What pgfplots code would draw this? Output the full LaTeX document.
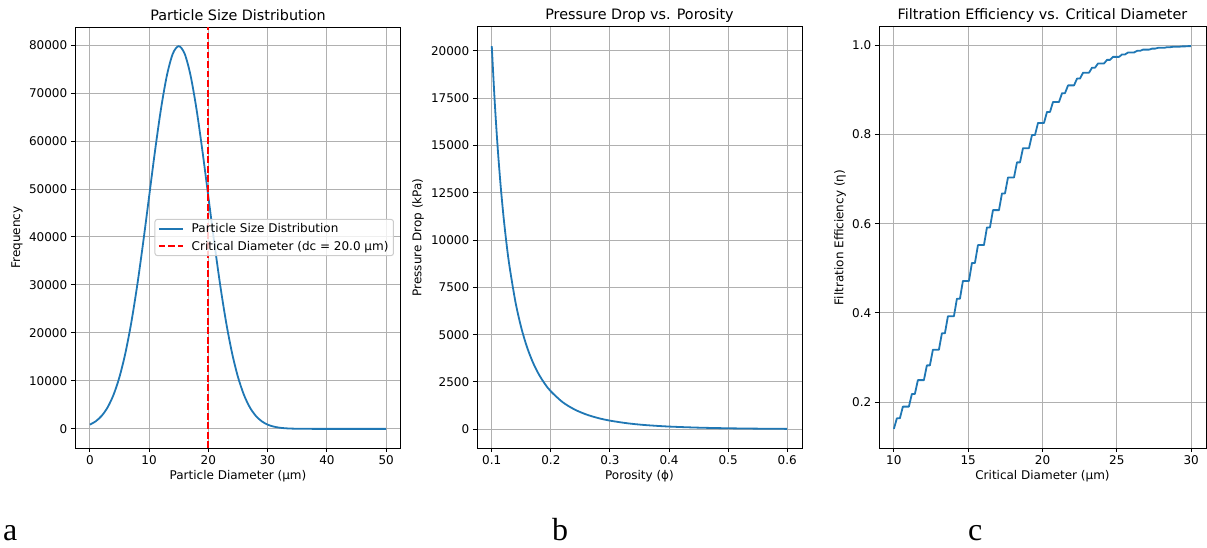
\documentclass[border=0pt]{standalone}
\usepackage{fontspec}
\setmainfont{DejaVu Sans}
\newfontfamily\panelfont{Liberation Serif}
\usepackage{pgfplots}
\pgfplotsset{compat=1.18}

\definecolor{mplblue}{HTML}{1F77B4}
\definecolor{gridgray}{HTML}{B0B0B0}
\definecolor{legendgray}{HTML}{CCCCCC}

\pgfplotsset{
  mpl/.style={
    scale only axis,
    width=326pt, height=421pt,
    axis line style={black, line width=1pt},
    grid=major,
    grid style={gridgray, line width=1pt},
    tick align=outside,
    major tick length=4.2pt,
    xtick pos=left, ytick pos=left,
    tick style={black, line width=1pt},
    ticklabel style={font=\fontsize{12}{14}\selectfont},
    label style={font=\fontsize{12}{14}\selectfont},
    title style={font=\fontsize{14.35}{17}\selectfont, at={(axis description cs:0.5,1)}, anchor=base, yshift=1pt},
    xlabel style={at={(axis description cs:0.5,0)}, anchor=base, yshift=-31pt},
    scaled ticks=false,
    /pgf/number format/assume math mode=true,
    /pgf/number format/1000 sep={},
  },
  curve/.style={mplblue, line width=1.8pt},
}

\begin{document}
\begin{tikzpicture}
\useasboundingbox (0pt,0pt) rectangle (1207pt,547pt);

% (a) particle size distribution
\begin{axis}[mpl,
  at={(75pt,99pt)}, anchor=south west,
  title={Particle Size Distribution},
  xlabel={Particle Diameter (μm)},
  ylabel={Frequency},
  ylabel style={at={(axis description cs:-0.178,0.5)}, anchor=center},
  xmin=-2.5, xmax=52.5, ymin=-3990, ymax=83780,
  xtick={0,10,...,50}, ytick={0,10000,...,80000},
  legend style={at={(0.9785,0.5)}, anchor=east, draw=legendgray, line width=1pt,
    rounded corners=2.5pt, fill=white, fill opacity=0.8, text opacity=1,
    font=\fontsize{12}{14}\selectfont, inner xsep=3pt, inner ysep=2pt,
    row sep=3pt, cells={anchor=west}},
  legend image code/.code={\draw[#1] (0pt,0pt) -- (24pt,0pt); \path (30pt,0pt);},
]
\addplot[curve, smooth] coordinates {
  (0,886) (1,1583) (2,2717) (3,4479) (4,7095) (5,10798) (6,15790) (7,22184)
  (8,29945) (9,38837) (10,48394) (11,57938) (12,66645) (13,73654) (14,78209)
  (15,79788) (16,78209) (17,73654) (18,66645) (19,57938) (20,48394) (21,38837)
  (22,29945) (23,22184) (24,15790) (25,10798) (26,7095) (27,4479) (28,2717)
  (29,1583) (30,886) (31,477) (32,246) (33,122) (34,58) (35,27) (36,12)
  (37,5) (38,2) (40,0) (45,0) (50,0)
};
\addlegendentry{Particle Size Distribution}
\addplot[red, line width=1.8pt, dash pattern=on 6.6pt off 2.9pt] coordinates {(20,-3990) (20,83780)};
\addlegendentry{Critical Diameter (dc = 20.0 μm)}
\end{axis}

% (b) pressure drop
\begin{axis}[mpl,
  at={(477pt,99pt)}, anchor=south west, width=325pt,
  title={Pressure Drop vs. Porosity},
  xlabel={Porosity (ϕ)},
  ylabel={Pressure Drop (kPa)},
  ylabel style={at={(axis description cs:-0.1815,0.5)}, anchor=center},
  xmin=0.075, xmax=0.625, ymin=-993, ymax=21262,
  xtick={0.1,0.2,0.3,0.4,0.5,0.6}, ytick={0,2500,...,20000},
  xticklabel style={/pgf/number format/.cd, fixed, fixed zerofill, precision=1},
]
\addplot[curve, smooth] coordinates {
  (0.100,20250) (0.105,17299) (0.110,14878) (0.115,12874) (0.120,11204)
  (0.125,9800) (0.130,8613) (0.140,6738) (0.150,5352) (0.160,4307)
  (0.170,3505) (0.180,2882) (0.190,2391) (0.200,2000) (0.220,1428)
  (0.240,1045) (0.260,779) (0.280,590) (0.300,454) (0.330,312)
  (0.360,219) (0.400,141) (0.450,83) (0.500,50) (0.550,30) (0.600,18.5)
};
\end{axis}

% (c) filtration efficiency
\begin{axis}[mpl,
  at={(879pt,99pt)}, anchor=south west, width=327pt,
  title={Filtration Efficiency vs. Critical Diameter},
  xlabel={Critical Diameter (μm)},
  ylabel={Filtration Efficiency (η)},
  ylabel style={at={(axis description cs:-0.1193,0.5)}, anchor=center},
  xmin=9, xmax=31, ymin=0.097, ymax=1.0414,
  xtick={10,15,...,30}, ytick={0.2,0.4,0.6,0.8,1.0},
  yticklabel style={/pgf/number format/.cd, fixed, fixed zerofill, precision=1},
]
\addplot[curve, line join=round] coordinates {
  (10.000,0.1399) (10.202,0.1636) (10.404,0.1636) (10.606,0.1898) (11.010,0.1898)
  (11.212,0.2183) (11.414,0.2183) (11.616,0.2493) (12.020,0.2493) (12.222,0.2824)
  (12.424,0.2824) (12.626,0.3175) (13.030,0.3175) (13.232,0.3543) (13.434,0.3543)
  (13.636,0.3925) (14.040,0.3925) (14.242,0.4318) (14.444,0.4318) (14.646,0.4718)
  (15.051,0.4718) (15.253,0.5121) (15.455,0.5121) (15.657,0.5522) (16.061,0.5522)
  (16.263,0.5918) (16.465,0.5918) (16.667,0.6306) (17.071,0.6306) (17.273,0.6680)
  (17.475,0.6680) (17.677,0.7038) (18.081,0.7038) (18.283,0.7377) (18.485,0.7377)
  (18.687,0.7696) (19.091,0.7696) (19.293,0.7991) (19.495,0.7991) (19.697,0.8262)
  (20.101,0.8262) (20.303,0.8509) (20.505,0.8509) (20.707,0.8732) (21.111,0.8732)
  (21.313,0.8930) (21.515,0.8930) (21.717,0.9104) (22.121,0.9104) (22.323,0.9257)
  (22.525,0.9257) (22.727,0.9389) (23.131,0.9389) (23.333,0.9502) (23.535,0.9502)
  (23.737,0.9597) (24.141,0.9597) (24.343,0.9677) (24.545,0.9677) (24.747,0.9744)
  (25.152,0.9744) (25.354,0.9799) (25.556,0.9799) (25.758,0.9843) (26.162,0.9843)
  (26.364,0.9879) (26.566,0.9879) (26.768,0.9907) (27.172,0.9907) (27.374,0.9929)
  (27.576,0.9929) (27.778,0.9947) (28.182,0.9947) (28.384,0.9961) (28.586,0.9961)
  (28.788,0.9971) (29.192,0.9971) (29.394,0.9979) (29.596,0.9979) (29.798,0.9985)
  (30.000,0.9985)
};
\end{axis}

\node[anchor=base west, inner sep=0pt, font=\panelfont\fontsize{32}{32}\selectfont] at (3pt,7pt) {a};
\node[anchor=base west, inner sep=0pt, font=\panelfont\fontsize{32}{32}\selectfont] at (552pt,7pt) {b};
\node[anchor=base west, inner sep=0pt, font=\panelfont\fontsize{32}{32}\selectfont] at (968pt,7pt) {c};
\end{tikzpicture}
\end{document}
